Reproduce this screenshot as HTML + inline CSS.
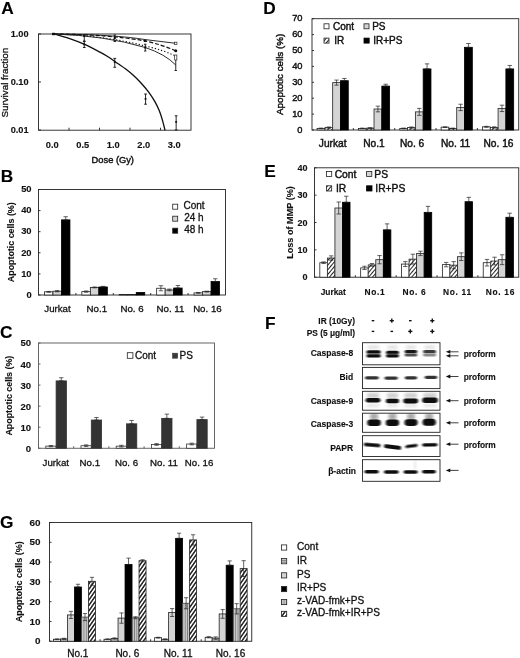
<!DOCTYPE html>
<html><head><meta charset="utf-8"><title>Figure</title>
<style>
html,body{margin:0;padding:0;background:#fff;}
body{width:520px;height:658px;overflow:hidden;font-family:"Liberation Sans",sans-serif;}
svg{display:block;font-family:"Liberation Sans",sans-serif;filter:blur(0.35px);}
</style></head><body>
<svg width="520" height="658" viewBox="0 0 520 658">
<defs>
<pattern id="hd" width="3" height="3" patternUnits="userSpaceOnUse" patternTransform="rotate(-50)"><rect width="3" height="3" fill="#fff"/><line x1="0" y1="1.5" x2="3" y2="1.5" stroke="#222" stroke-width="1.05"/></pattern>
<pattern id="hg" width="3.1" height="3.1" patternUnits="userSpaceOnUse" patternTransform="rotate(-55)"><rect width="3.1" height="3.1" fill="#fff"/><line x1="0" y1="1.55" x2="3.1" y2="1.55" stroke="#111" stroke-width="1.4"/></pattern>
<pattern id="hh" width="2" height="2" patternUnits="userSpaceOnUse"><rect width="2" height="2" fill="#fff"/><line x1="0" y1="1" x2="2" y2="1" stroke="#444" stroke-width="0.8"/></pattern>
<pattern id="hv" width="2.3" height="2.3" patternUnits="userSpaceOnUse"><rect width="2.3" height="2.3" fill="#d2d2d2"/><line x1="1.15" y1="0" x2="1.15" y2="2.3" stroke="#7a7a7a" stroke-width="0.95"/></pattern>
<filter id="bl" x="-20%" y="-100%" width="140%" height="300%"><feGaussianBlur stdDeviation="0.9 0.6"/></filter>
<filter id="bl2" x="-20%" y="-100%" width="140%" height="300%"><feGaussianBlur stdDeviation="1.6 1.4"/></filter>
<marker id="ah" viewBox="0 0 6 6" refX="1" refY="3" markerWidth="5" markerHeight="5" orient="auto-start-reverse"><path d="M6,0.4 L0,3 L6,5.6 z" fill="#111"/></marker>
</defs>
<rect width="520" height="658" fill="#fff"/>

<text x="1.2" y="14" font-size="17.3" text-anchor="start" font-weight="bold" fill="#000"  stroke="#000" stroke-width="0.12">A</text>
<text x="0.8" y="182" font-size="17.3" text-anchor="start" font-weight="bold" fill="#000"  stroke="#000" stroke-width="0.12">B</text>
<text x="0" y="337.8" font-size="17.3" text-anchor="start" font-weight="bold" fill="#000"  stroke="#000" stroke-width="0.12">C</text>
<text x="263.3" y="14.2" font-size="17.3" text-anchor="start" font-weight="bold" fill="#000"  stroke="#000" stroke-width="0.12">D</text>
<text x="264.2" y="176.8" font-size="17.3" text-anchor="start" font-weight="bold" fill="#000"  stroke="#000" stroke-width="0.12">E</text>
<text x="265" y="329.2" font-size="17.3" text-anchor="start" font-weight="bold" fill="#000"  stroke="#000" stroke-width="0.12">F</text>
<text x="0" y="528.2" font-size="17.3" text-anchor="start" font-weight="bold" fill="#000"  stroke="#000" stroke-width="0.12">G</text>
<rect x="38.50" y="34.00" width="152.50" height="96.20" fill="none" stroke="#222" stroke-width="0.9" />
<line x1="69.00" y1="130.20" x2="69.00" y2="127.70" stroke="#222" stroke-width="0.9" />
<line x1="99.50" y1="130.20" x2="99.50" y2="127.70" stroke="#222" stroke-width="0.9" />
<line x1="130.00" y1="130.20" x2="130.00" y2="127.70" stroke="#222" stroke-width="0.9" />
<line x1="160.50" y1="130.20" x2="160.50" y2="127.70" stroke="#222" stroke-width="0.9" />
<line x1="38.50" y1="34.00" x2="41.00" y2="34.00" stroke="#222" stroke-width="0.9" />
<text x="28.6" y="37.2" font-size="9.2" text-anchor="end" font-weight="bold" fill="#111"  stroke="#111" stroke-width="0.12">1.00</text>
<line x1="38.50" y1="82.00" x2="41.00" y2="82.00" stroke="#222" stroke-width="0.9" />
<text x="28.6" y="85.2" font-size="9.2" text-anchor="end" font-weight="bold" fill="#111"  stroke="#111" stroke-width="0.12">0.10</text>
<line x1="38.50" y1="130.00" x2="41.00" y2="130.00" stroke="#222" stroke-width="0.9" />
<text x="28.6" y="133.2" font-size="9.2" text-anchor="end" font-weight="bold" fill="#111"  stroke="#111" stroke-width="0.12">0.01</text>
<text x="52.25" y="148.3" font-size="9.3" text-anchor="middle" font-weight="bold" fill="#111"  stroke="#111" stroke-width="0.12">0.0</text>
<text x="82.75" y="148.3" font-size="9.3" text-anchor="middle" font-weight="bold" fill="#111"  stroke="#111" stroke-width="0.12">0.5</text>
<text x="113.25" y="148.3" font-size="9.3" text-anchor="middle" font-weight="bold" fill="#111"  stroke="#111" stroke-width="0.12">1.0</text>
<text x="143.75" y="148.3" font-size="9.3" text-anchor="middle" font-weight="bold" fill="#111"  stroke="#111" stroke-width="0.12">2.0</text>
<text x="174.25" y="148.3" font-size="9.3" text-anchor="middle" font-weight="bold" fill="#111"  stroke="#111" stroke-width="0.12">3.0</text>
<text x="112.8" y="162.5" font-size="9.3" text-anchor="middle" fill="#111"  stroke="#111" stroke-width="0.42">Dose (Gy)</text>
<text x="7.9" y="82.7" font-size="9.8" text-anchor="middle" transform="rotate(-90 7.9 82.7)" fill="#111"  stroke="#111" stroke-width="0.3">Survival fraction</text>
<path d="M53.60,33.80 C56.17,34.57 63.83,36.63 69.00,38.40 C74.17,40.17 79.43,42.10 84.60,44.40 C89.77,46.70 95.77,49.93 100.00,52.20 C104.23,54.47 107.05,56.12 110.00,58.00 C112.95,59.88 115.13,61.70 117.70,63.50 C120.27,65.30 122.85,66.88 125.40,68.80 C127.95,70.72 130.43,72.68 133.00,75.00 C135.57,77.32 138.22,79.88 140.80,82.70 C143.38,85.52 146.20,88.82 148.50,91.90 C150.80,94.98 152.82,98.12 154.60,101.20 C156.38,104.28 157.92,107.33 159.20,110.40 C160.48,113.47 161.33,116.28 162.30,119.60 C163.27,122.92 164.55,128.52 165.00,130.30" fill="none" stroke="#111" stroke-width="1.35"/>
<path d="M53.5,34 Q115,34.5 145.25,39.6 L175.75,43.3" fill="none" stroke="#222" stroke-width="0.95"/>
<path d="M53.5,34 Q110,34.5 145.25,41 Q163,45 175.75,50.8" fill="none" stroke="#111" stroke-width="1.2" stroke-dasharray="4 2"/>
<path d="M53.5,34 Q105,35.5 145.25,46 Q163,50 175.75,56" fill="none" stroke="#111" stroke-width="1.1" stroke-dasharray="1.3 2"/>
<path d="M53.5,34 Q105,35.5 145.25,47.5 Q165,54 175.75,65" fill="none" stroke="#222" stroke-width="0.95"/>
<rect x="52.00" y="32.80" width="3.00" height="2.40" fill="#111" stroke="none" stroke-width="0" />
<line x1="84.25" y1="36.00" x2="84.25" y2="41.00" stroke="#111" stroke-width="0.9" />
<line x1="83.05" y1="36.00" x2="85.45" y2="36.00" stroke="#111" stroke-width="0.9" />
<line x1="83.05" y1="41.00" x2="85.45" y2="41.00" stroke="#111" stroke-width="0.9" />
<line x1="84.25" y1="41.50" x2="84.25" y2="47.50" stroke="#111" stroke-width="0.9" />
<line x1="82.95" y1="41.50" x2="85.55" y2="41.50" stroke="#111" stroke-width="0.9" />
<line x1="82.95" y1="47.50" x2="85.55" y2="47.50" stroke="#111" stroke-width="0.9" />
<rect x="83.35" y="43.40" width="1.80" height="1.80" fill="#111" stroke="none" stroke-width="0" />
<line x1="114.75" y1="35.00" x2="114.75" y2="41.50" stroke="#111" stroke-width="0.9" />
<line x1="113.55" y1="35.00" x2="115.95" y2="35.00" stroke="#111" stroke-width="0.9" />
<line x1="113.55" y1="41.50" x2="115.95" y2="41.50" stroke="#111" stroke-width="0.9" />
<line x1="114.75" y1="58.40" x2="114.75" y2="67.30" stroke="#111" stroke-width="0.9" />
<line x1="113.35" y1="58.40" x2="116.15" y2="58.40" stroke="#111" stroke-width="0.9" />
<line x1="113.35" y1="67.30" x2="116.15" y2="67.30" stroke="#111" stroke-width="0.9" />
<rect x="113.85" y="61.20" width="1.80" height="1.80" fill="#111" stroke="none" stroke-width="0" />
<line x1="145.55" y1="94.00" x2="145.55" y2="104.20" stroke="#111" stroke-width="0.9" />
<line x1="144.15" y1="94.00" x2="146.95" y2="94.00" stroke="#111" stroke-width="0.9" />
<line x1="144.15" y1="104.20" x2="146.95" y2="104.20" stroke="#111" stroke-width="0.9" />
<rect x="144.65" y="98.00" width="1.80" height="1.80" fill="#111" stroke="none" stroke-width="0" />
<line x1="176.15" y1="115.80" x2="176.15" y2="130.00" stroke="#111" stroke-width="0.9" />
<line x1="174.75" y1="115.80" x2="177.55" y2="115.80" stroke="#111" stroke-width="0.9" />
<line x1="174.75" y1="130.00" x2="177.55" y2="130.00" stroke="#111" stroke-width="0.9" />
<rect x="175.25" y="121.00" width="1.80" height="1.80" fill="#111" stroke="none" stroke-width="0" />
<line x1="145.25" y1="44.20" x2="145.25" y2="51.00" stroke="#111" stroke-width="0.9" />
<line x1="144.05" y1="44.20" x2="146.45" y2="44.20" stroke="#111" stroke-width="0.9" />
<line x1="144.05" y1="51.00" x2="146.45" y2="51.00" stroke="#111" stroke-width="0.9" />
<line x1="175.75" y1="56.00" x2="175.75" y2="70.50" stroke="#111" stroke-width="0.9" />
<line x1="174.55" y1="56.00" x2="176.95" y2="56.00" stroke="#111" stroke-width="0.9" />
<line x1="174.55" y1="70.50" x2="176.95" y2="70.50" stroke="#111" stroke-width="0.9" />
<rect x="174.55" y="42.20" width="2.40" height="2.40" fill="#fff" stroke="#222" stroke-width="0.7" />
<circle cx="175.75" cy="50.8" r="1.5" fill="#111"/>
<rect x="144.05" y="39.60" width="2.40" height="2.40" fill="#111" stroke="none" stroke-width="0" />
<rect x="174.65" y="55.00" width="2.20" height="5.00" fill="#fff" stroke="#222" stroke-width="0.7" />
<rect x="144.25" y="46.50" width="2.00" height="2.00" fill="#111" stroke="none" stroke-width="0" />
<rect x="113.75" y="37.00" width="2.00" height="2.00" fill="#111" stroke="none" stroke-width="0" />
<rect x="83.35" y="35.00" width="1.80" height="1.80" fill="#111" stroke="none" stroke-width="0" />
<rect x="38.50" y="189.50" width="187.00" height="105.50" fill="none" stroke="#222" stroke-width="0.9" />
<line x1="38.50" y1="295.00" x2="40.50" y2="295.00" stroke="#222" stroke-width="0.9" />
<text x="31.6" y="297.784" font-size="9.4" text-anchor="end" font-weight="bold" fill="#111"  stroke="#111" stroke-width="0.12">0</text>
<line x1="38.50" y1="273.90" x2="40.50" y2="273.90" stroke="#222" stroke-width="0.9" />
<text x="31.6" y="276.68399999999997" font-size="9.4" text-anchor="end" font-weight="bold" fill="#111"  stroke="#111" stroke-width="0.12">10</text>
<line x1="38.50" y1="252.80" x2="40.50" y2="252.80" stroke="#222" stroke-width="0.9" />
<text x="31.6" y="255.58400000000003" font-size="9.4" text-anchor="end" font-weight="bold" fill="#111"  stroke="#111" stroke-width="0.12">20</text>
<line x1="38.50" y1="231.70" x2="40.50" y2="231.70" stroke="#222" stroke-width="0.9" />
<text x="31.6" y="234.48399999999998" font-size="9.4" text-anchor="end" font-weight="bold" fill="#111"  stroke="#111" stroke-width="0.12">30</text>
<line x1="38.50" y1="210.60" x2="40.50" y2="210.60" stroke="#222" stroke-width="0.9" />
<text x="31.6" y="213.38400000000001" font-size="9.4" text-anchor="end" font-weight="bold" fill="#111"  stroke="#111" stroke-width="0.12">40</text>
<line x1="38.50" y1="189.50" x2="40.50" y2="189.50" stroke="#222" stroke-width="0.9" />
<text x="31.6" y="192.284" font-size="9.4" text-anchor="end" font-weight="bold" fill="#111"  stroke="#111" stroke-width="0.12">50</text>
<line x1="75.90" y1="295.00" x2="75.90" y2="293.00" stroke="#222" stroke-width="0.9" />
<line x1="113.30" y1="295.00" x2="113.30" y2="293.00" stroke="#222" stroke-width="0.9" />
<line x1="150.70" y1="295.00" x2="150.70" y2="293.00" stroke="#222" stroke-width="0.9" />
<line x1="188.10" y1="295.00" x2="188.10" y2="293.00" stroke="#222" stroke-width="0.9" />
<rect x="44.45" y="291.83" width="8.50" height="3.17" fill="#fff" stroke="#222" stroke-width="0.8" />
<line x1="48.70" y1="291.41" x2="48.70" y2="292.26" stroke="#222" stroke-width="0.7" />
<line x1="46.50" y1="291.41" x2="50.90" y2="291.41" stroke="#222" stroke-width="0.7" />
<line x1="46.50" y1="292.26" x2="50.90" y2="292.26" stroke="#222" stroke-width="0.7" />
<rect x="52.95" y="291.20" width="8.50" height="3.80" fill="#d4d4d4" stroke="#222" stroke-width="0.8" />
<line x1="57.20" y1="290.57" x2="57.20" y2="291.83" stroke="#222" stroke-width="0.7" />
<line x1="55.00" y1="290.57" x2="59.40" y2="290.57" stroke="#222" stroke-width="0.7" />
<line x1="55.00" y1="291.83" x2="59.40" y2="291.83" stroke="#222" stroke-width="0.7" />
<rect x="61.45" y="219.88" width="8.50" height="75.12" fill="#000" stroke="#000" stroke-width="0.8" />
<line x1="65.70" y1="216.72" x2="65.70" y2="219.88" stroke="#222" stroke-width="0.7" />
<line x1="63.50" y1="216.72" x2="67.90" y2="216.72" stroke="#222" stroke-width="0.7" />
<line x1="63.50" y1="219.88" x2="67.90" y2="219.88" stroke="#222" stroke-width="0.7" />
<text x="57.5" y="312.3" font-size="9.7" text-anchor="middle" fill="#111"  stroke="#111" stroke-width="0.3">Jurkat</text>
<rect x="81.85" y="291.62" width="8.50" height="3.38" fill="#fff" stroke="#222" stroke-width="0.8" />
<line x1="86.10" y1="290.99" x2="86.10" y2="292.26" stroke="#222" stroke-width="0.7" />
<line x1="83.90" y1="290.99" x2="88.30" y2="290.99" stroke="#222" stroke-width="0.7" />
<line x1="83.90" y1="292.26" x2="88.30" y2="292.26" stroke="#222" stroke-width="0.7" />
<rect x="90.35" y="287.40" width="8.50" height="7.60" fill="#d4d4d4" stroke="#222" stroke-width="0.8" />
<line x1="94.60" y1="286.98" x2="94.60" y2="287.83" stroke="#222" stroke-width="0.7" />
<line x1="92.40" y1="286.98" x2="96.80" y2="286.98" stroke="#222" stroke-width="0.7" />
<line x1="92.40" y1="287.83" x2="96.80" y2="287.83" stroke="#222" stroke-width="0.7" />
<rect x="98.85" y="286.98" width="8.50" height="8.02" fill="#000" stroke="#000" stroke-width="0.8" />
<line x1="103.10" y1="286.35" x2="103.10" y2="286.98" stroke="#222" stroke-width="0.7" />
<line x1="100.90" y1="286.35" x2="105.30" y2="286.35" stroke="#222" stroke-width="0.7" />
<line x1="100.90" y1="286.98" x2="105.30" y2="286.98" stroke="#222" stroke-width="0.7" />
<text x="96.8" y="312.3" font-size="9.7" text-anchor="middle" fill="#111"  stroke="#111" stroke-width="0.3">No.1</text>
<rect x="119.25" y="294.58" width="8.50" height="0.42" fill="#fff" stroke="#222" stroke-width="0.8" />
<rect x="127.75" y="294.58" width="8.50" height="0.42" fill="#d4d4d4" stroke="#222" stroke-width="0.8" />
<rect x="136.25" y="292.47" width="8.50" height="2.53" fill="#000" stroke="#000" stroke-width="0.8" />
<text x="132.0" y="312.3" font-size="9.7" text-anchor="middle" fill="#111"  stroke="#111" stroke-width="0.3">No. 6</text>
<rect x="156.65" y="288.25" width="8.50" height="6.75" fill="#fff" stroke="#222" stroke-width="0.8" />
<line x1="160.90" y1="285.72" x2="160.90" y2="290.78" stroke="#222" stroke-width="0.7" />
<line x1="158.70" y1="285.72" x2="163.10" y2="285.72" stroke="#222" stroke-width="0.7" />
<line x1="158.70" y1="290.78" x2="163.10" y2="290.78" stroke="#222" stroke-width="0.7" />
<rect x="165.15" y="289.94" width="8.50" height="5.06" fill="#d4d4d4" stroke="#222" stroke-width="0.8" />
<line x1="169.40" y1="289.09" x2="169.40" y2="290.78" stroke="#222" stroke-width="0.7" />
<line x1="167.20" y1="289.09" x2="171.60" y2="289.09" stroke="#222" stroke-width="0.7" />
<line x1="167.20" y1="290.78" x2="171.60" y2="290.78" stroke="#222" stroke-width="0.7" />
<rect x="173.65" y="288.04" width="8.50" height="6.96" fill="#000" stroke="#000" stroke-width="0.8" />
<line x1="177.90" y1="285.50" x2="177.90" y2="288.04" stroke="#222" stroke-width="0.7" />
<line x1="175.70" y1="285.50" x2="180.10" y2="285.50" stroke="#222" stroke-width="0.7" />
<line x1="175.70" y1="288.04" x2="180.10" y2="288.04" stroke="#222" stroke-width="0.7" />
<text x="170.5" y="312.3" font-size="9.7" text-anchor="middle" fill="#111"  stroke="#111" stroke-width="0.3">No. 11</text>
<rect x="194.05" y="292.89" width="8.50" height="2.11" fill="#fff" stroke="#222" stroke-width="0.8" />
<line x1="198.30" y1="292.47" x2="198.30" y2="293.31" stroke="#222" stroke-width="0.7" />
<line x1="196.10" y1="292.47" x2="200.50" y2="292.47" stroke="#222" stroke-width="0.7" />
<line x1="196.10" y1="293.31" x2="200.50" y2="293.31" stroke="#222" stroke-width="0.7" />
<rect x="202.55" y="291.62" width="8.50" height="3.38" fill="#d4d4d4" stroke="#222" stroke-width="0.8" />
<line x1="206.80" y1="291.20" x2="206.80" y2="292.05" stroke="#222" stroke-width="0.7" />
<line x1="204.60" y1="291.20" x2="209.00" y2="291.20" stroke="#222" stroke-width="0.7" />
<line x1="204.60" y1="292.05" x2="209.00" y2="292.05" stroke="#222" stroke-width="0.7" />
<rect x="211.05" y="281.50" width="8.50" height="13.50" fill="#000" stroke="#000" stroke-width="0.8" />
<line x1="215.30" y1="278.75" x2="215.30" y2="281.50" stroke="#222" stroke-width="0.7" />
<line x1="213.10" y1="278.75" x2="217.50" y2="278.75" stroke="#222" stroke-width="0.7" />
<line x1="213.10" y1="281.50" x2="217.50" y2="281.50" stroke="#222" stroke-width="0.7" />
<text x="207.39999999999998" y="312.3" font-size="9.7" text-anchor="middle" fill="#111"  stroke="#111" stroke-width="0.3">No. 16</text>
<text x="14.0" y="242.25" font-size="8.9" text-anchor="middle" font-weight="bold" transform="rotate(-90 14.0 242.25)" fill="#111"  stroke="#111" stroke-width="0.12">Apoptotic cells (%)</text>
<rect x="172.70" y="204.20" width="5.00" height="5.00" fill="#fff" stroke="#222" stroke-width="0.8" />
<text x="183.5" y="209.0" font-size="10" text-anchor="start" fill="#111"  stroke="#111" stroke-width="0.3">Cont</text>
<rect x="172.70" y="216.20" width="5.00" height="5.00" fill="#d4d4d4" stroke="#222" stroke-width="0.8" />
<text x="184.2" y="221.0" font-size="10" text-anchor="start" fill="#111"  stroke="#111" stroke-width="0.3">24 h</text>
<rect x="172.70" y="228.20" width="5.00" height="5.00" fill="#000" stroke="#222" stroke-width="0.8" />
<text x="184.2" y="233.0" font-size="10" text-anchor="start" fill="#111"  stroke="#111" stroke-width="0.3">48 h</text>
<rect x="38.50" y="343.00" width="176.00" height="105.25" fill="none" stroke="#555" stroke-width="0.9" />
<line x1="38.50" y1="448.25" x2="40.50" y2="448.25" stroke="#555" stroke-width="0.9" />
<text x="31.2" y="451.706" font-size="9.6" text-anchor="end" font-weight="bold" fill="#111"  stroke="#111" stroke-width="0.12">0</text>
<line x1="38.50" y1="427.20" x2="40.50" y2="427.20" stroke="#555" stroke-width="0.9" />
<text x="31.2" y="430.656" font-size="9.6" text-anchor="end" font-weight="bold" fill="#111"  stroke="#111" stroke-width="0.12">10</text>
<line x1="38.50" y1="406.15" x2="40.50" y2="406.15" stroke="#555" stroke-width="0.9" />
<text x="31.2" y="409.606" font-size="9.6" text-anchor="end" font-weight="bold" fill="#111"  stroke="#111" stroke-width="0.12">20</text>
<line x1="38.50" y1="385.10" x2="40.50" y2="385.10" stroke="#555" stroke-width="0.9" />
<text x="31.2" y="388.55600000000004" font-size="9.6" text-anchor="end" font-weight="bold" fill="#111"  stroke="#111" stroke-width="0.12">30</text>
<line x1="38.50" y1="364.05" x2="40.50" y2="364.05" stroke="#555" stroke-width="0.9" />
<text x="31.2" y="367.50600000000003" font-size="9.6" text-anchor="end" font-weight="bold" fill="#111"  stroke="#111" stroke-width="0.12">40</text>
<line x1="38.50" y1="343.00" x2="40.50" y2="343.00" stroke="#555" stroke-width="0.9" />
<text x="31.2" y="346.456" font-size="9.6" text-anchor="end" font-weight="bold" fill="#111"  stroke="#111" stroke-width="0.12">50</text>
<line x1="73.70" y1="448.25" x2="73.70" y2="446.25" stroke="#555" stroke-width="0.9" />
<line x1="108.90" y1="448.25" x2="108.90" y2="446.25" stroke="#555" stroke-width="0.9" />
<line x1="144.10" y1="448.25" x2="144.10" y2="446.25" stroke="#555" stroke-width="0.9" />
<line x1="179.30" y1="448.25" x2="179.30" y2="446.25" stroke="#555" stroke-width="0.9" />
<rect x="45.80" y="446.14" width="10.30" height="2.10" fill="#fff" stroke="#333" stroke-width="0.8" />
<line x1="50.95" y1="445.51" x2="50.95" y2="446.78" stroke="#222" stroke-width="0.7" />
<line x1="48.75" y1="445.51" x2="53.15" y2="445.51" stroke="#222" stroke-width="0.7" />
<line x1="48.75" y1="446.78" x2="53.15" y2="446.78" stroke="#222" stroke-width="0.7" />
<rect x="56.10" y="380.89" width="10.30" height="67.36" fill="#333" stroke="#333" stroke-width="0.8" />
<line x1="61.25" y1="377.73" x2="61.25" y2="380.89" stroke="#222" stroke-width="0.7" />
<line x1="59.05" y1="377.73" x2="63.45" y2="377.73" stroke="#222" stroke-width="0.7" />
<line x1="59.05" y1="380.89" x2="63.45" y2="380.89" stroke="#222" stroke-width="0.7" />
<text x="55.800000000000004" y="466.3" font-size="9.7" text-anchor="middle" fill="#111"  stroke="#111" stroke-width="0.3">Jurkat</text>
<rect x="81.00" y="445.72" width="10.30" height="2.53" fill="#fff" stroke="#333" stroke-width="0.8" />
<line x1="86.15" y1="444.88" x2="86.15" y2="446.57" stroke="#222" stroke-width="0.7" />
<line x1="83.95" y1="444.88" x2="88.35" y2="444.88" stroke="#222" stroke-width="0.7" />
<line x1="83.95" y1="446.57" x2="88.35" y2="446.57" stroke="#222" stroke-width="0.7" />
<rect x="91.30" y="420.04" width="10.30" height="28.21" fill="#333" stroke="#333" stroke-width="0.8" />
<line x1="96.45" y1="417.52" x2="96.45" y2="420.04" stroke="#222" stroke-width="0.7" />
<line x1="94.25" y1="417.52" x2="98.65" y2="417.52" stroke="#222" stroke-width="0.7" />
<line x1="94.25" y1="420.04" x2="98.65" y2="420.04" stroke="#222" stroke-width="0.7" />
<text x="89.80000000000001" y="466.3" font-size="9.7" text-anchor="middle" fill="#111"  stroke="#111" stroke-width="0.3">No.1</text>
<rect x="116.20" y="446.14" width="10.30" height="2.10" fill="#fff" stroke="#333" stroke-width="0.8" />
<line x1="121.35" y1="445.30" x2="121.35" y2="446.99" stroke="#222" stroke-width="0.7" />
<line x1="119.15" y1="445.30" x2="123.55" y2="445.30" stroke="#222" stroke-width="0.7" />
<line x1="119.15" y1="446.99" x2="123.55" y2="446.99" stroke="#222" stroke-width="0.7" />
<rect x="126.50" y="423.83" width="10.30" height="24.42" fill="#333" stroke="#333" stroke-width="0.8" />
<line x1="131.65" y1="420.46" x2="131.65" y2="423.83" stroke="#222" stroke-width="0.7" />
<line x1="129.45" y1="420.46" x2="133.85" y2="420.46" stroke="#222" stroke-width="0.7" />
<line x1="129.45" y1="423.83" x2="133.85" y2="423.83" stroke="#222" stroke-width="0.7" />
<text x="126.5" y="466.3" font-size="9.7" text-anchor="middle" fill="#111"  stroke="#111" stroke-width="0.3">No. 6</text>
<rect x="151.40" y="444.46" width="10.30" height="3.79" fill="#fff" stroke="#333" stroke-width="0.8" />
<line x1="156.55" y1="443.62" x2="156.55" y2="445.30" stroke="#222" stroke-width="0.7" />
<line x1="154.35" y1="443.62" x2="158.75" y2="443.62" stroke="#222" stroke-width="0.7" />
<line x1="154.35" y1="445.30" x2="158.75" y2="445.30" stroke="#222" stroke-width="0.7" />
<rect x="161.70" y="418.36" width="10.30" height="29.89" fill="#333" stroke="#333" stroke-width="0.8" />
<line x1="166.85" y1="414.15" x2="166.85" y2="418.36" stroke="#222" stroke-width="0.7" />
<line x1="164.65" y1="414.15" x2="169.05" y2="414.15" stroke="#222" stroke-width="0.7" />
<line x1="164.65" y1="418.36" x2="169.05" y2="418.36" stroke="#222" stroke-width="0.7" />
<text x="164.00000000000003" y="466.3" font-size="9.7" text-anchor="middle" fill="#111"  stroke="#111" stroke-width="0.3">No. 11</text>
<rect x="186.60" y="444.04" width="10.30" height="4.21" fill="#fff" stroke="#333" stroke-width="0.8" />
<line x1="191.75" y1="443.20" x2="191.75" y2="444.88" stroke="#222" stroke-width="0.7" />
<line x1="189.55" y1="443.20" x2="193.95" y2="443.20" stroke="#222" stroke-width="0.7" />
<line x1="189.55" y1="444.88" x2="193.95" y2="444.88" stroke="#222" stroke-width="0.7" />
<rect x="196.90" y="419.62" width="10.30" height="28.63" fill="#333" stroke="#333" stroke-width="0.8" />
<line x1="202.05" y1="417.10" x2="202.05" y2="419.62" stroke="#222" stroke-width="0.7" />
<line x1="199.85" y1="417.10" x2="204.25" y2="417.10" stroke="#222" stroke-width="0.7" />
<line x1="199.85" y1="419.62" x2="204.25" y2="419.62" stroke="#222" stroke-width="0.7" />
<text x="199.1" y="466.3" font-size="9.7" text-anchor="middle" fill="#111"  stroke="#111" stroke-width="0.3">No. 16</text>
<text x="12" y="395.625" font-size="8.9" text-anchor="middle" font-weight="bold" transform="rotate(-90 12 395.625)" fill="#111"  stroke="#111" stroke-width="0.12">Apoptotic cells (%)</text>
<rect x="127.30" y="352.70" width="5.60" height="5.60" fill="#fff" stroke="#222" stroke-width="0.8" />
<text x="135" y="359.2" font-size="10" text-anchor="start" fill="#111"  stroke="#111" stroke-width="0.3">Cont</text>
<rect x="172.60" y="353.20" width="5.00" height="5.00" fill="#3a3a3a" stroke="#333" stroke-width="0.6" />
<text x="179.5" y="359.2" font-size="10" text-anchor="start" fill="#111"  stroke="#111" stroke-width="0.3">PS</text>
<rect x="312.00" y="18.70" width="206.75" height="111.30" fill="none" stroke="#222" stroke-width="0.9" />
<line x1="312.00" y1="130.00" x2="314.00" y2="130.00" stroke="#222" stroke-width="0.9" />
<text x="302.5" y="132.74800000000002" font-size="9.3" text-anchor="end" fill="#111"  stroke="#111" stroke-width="0.42">0</text>
<line x1="312.00" y1="114.10" x2="314.00" y2="114.10" stroke="#222" stroke-width="0.9" />
<text x="302.5" y="116.848" font-size="9.3" text-anchor="end" fill="#111"  stroke="#111" stroke-width="0.42">10</text>
<line x1="312.00" y1="98.20" x2="314.00" y2="98.20" stroke="#222" stroke-width="0.9" />
<text x="302.5" y="100.94800000000001" font-size="9.3" text-anchor="end" fill="#111"  stroke="#111" stroke-width="0.42">20</text>
<line x1="312.00" y1="82.30" x2="314.00" y2="82.30" stroke="#222" stroke-width="0.9" />
<text x="302.5" y="85.04800000000002" font-size="9.3" text-anchor="end" fill="#111"  stroke="#111" stroke-width="0.42">30</text>
<line x1="312.00" y1="66.40" x2="314.00" y2="66.40" stroke="#222" stroke-width="0.9" />
<text x="302.5" y="69.14800000000001" font-size="9.3" text-anchor="end" fill="#111"  stroke="#111" stroke-width="0.42">40</text>
<line x1="312.00" y1="50.50" x2="314.00" y2="50.50" stroke="#222" stroke-width="0.9" />
<text x="302.5" y="53.248" font-size="9.3" text-anchor="end" fill="#111"  stroke="#111" stroke-width="0.42">50</text>
<line x1="312.00" y1="34.60" x2="314.00" y2="34.60" stroke="#222" stroke-width="0.9" />
<text x="302.5" y="37.348000000000006" font-size="9.3" text-anchor="end" fill="#111"  stroke="#111" stroke-width="0.42">60</text>
<line x1="312.00" y1="18.70" x2="314.00" y2="18.70" stroke="#222" stroke-width="0.9" />
<text x="302.5" y="21.448000000000015" font-size="9.3" text-anchor="end" fill="#111"  stroke="#111" stroke-width="0.42">70</text>
<line x1="353.35" y1="130.00" x2="353.35" y2="128.00" stroke="#222" stroke-width="0.9" />
<line x1="394.70" y1="130.00" x2="394.70" y2="128.00" stroke="#222" stroke-width="0.9" />
<line x1="436.05" y1="130.00" x2="436.05" y2="128.00" stroke="#222" stroke-width="0.9" />
<line x1="477.40" y1="130.00" x2="477.40" y2="128.00" stroke="#222" stroke-width="0.9" />
<rect x="317.07" y="128.41" width="7.80" height="1.59" fill="#fff" stroke="#222" stroke-width="0.8" />
<line x1="320.97" y1="128.09" x2="320.97" y2="128.73" stroke="#222" stroke-width="0.7" />
<line x1="318.77" y1="128.09" x2="323.17" y2="128.09" stroke="#222" stroke-width="0.7" />
<line x1="318.77" y1="128.73" x2="323.17" y2="128.73" stroke="#222" stroke-width="0.7" />
<rect x="324.88" y="127.61" width="7.80" height="2.38" fill="#fff" stroke="none" stroke-width="0" />
<rect x="324.88" y="127.61" width="7.80" height="2.38" fill="url(#hd)" stroke="#222" stroke-width="0.8" />
<line x1="328.77" y1="126.98" x2="328.77" y2="128.25" stroke="#222" stroke-width="0.7" />
<line x1="326.57" y1="126.98" x2="330.97" y2="126.98" stroke="#222" stroke-width="0.7" />
<line x1="326.57" y1="128.25" x2="330.97" y2="128.25" stroke="#222" stroke-width="0.7" />
<rect x="332.68" y="82.62" width="7.80" height="47.38" fill="#d4d4d4" stroke="#222" stroke-width="0.8" />
<line x1="336.57" y1="80.07" x2="336.57" y2="85.16" stroke="#222" stroke-width="0.7" />
<line x1="334.38" y1="80.07" x2="338.77" y2="80.07" stroke="#222" stroke-width="0.7" />
<line x1="334.38" y1="85.16" x2="338.77" y2="85.16" stroke="#222" stroke-width="0.7" />
<rect x="340.47" y="80.71" width="7.80" height="49.29" fill="#000" stroke="#000" stroke-width="0.8" />
<line x1="344.37" y1="78.48" x2="344.37" y2="80.71" stroke="#222" stroke-width="0.7" />
<line x1="342.17" y1="78.48" x2="346.57" y2="78.48" stroke="#222" stroke-width="0.7" />
<line x1="342.17" y1="80.71" x2="346.57" y2="80.71" stroke="#222" stroke-width="0.7" />
<text x="332.675" y="147.3" font-size="10.2" text-anchor="middle" fill="#111"  stroke="#111" stroke-width="0.42">Jurkat</text>
<rect x="358.42" y="128.41" width="7.80" height="1.59" fill="#fff" stroke="#222" stroke-width="0.8" />
<line x1="362.32" y1="128.09" x2="362.32" y2="128.73" stroke="#222" stroke-width="0.7" />
<line x1="360.12" y1="128.09" x2="364.52" y2="128.09" stroke="#222" stroke-width="0.7" />
<line x1="360.12" y1="128.73" x2="364.52" y2="128.73" stroke="#222" stroke-width="0.7" />
<rect x="366.22" y="128.09" width="7.80" height="1.91" fill="#fff" stroke="none" stroke-width="0" />
<rect x="366.22" y="128.09" width="7.80" height="1.91" fill="url(#hd)" stroke="#222" stroke-width="0.8" />
<line x1="370.12" y1="127.62" x2="370.12" y2="128.57" stroke="#222" stroke-width="0.7" />
<line x1="367.92" y1="127.62" x2="372.32" y2="127.62" stroke="#222" stroke-width="0.7" />
<line x1="367.92" y1="128.57" x2="372.32" y2="128.57" stroke="#222" stroke-width="0.7" />
<rect x="374.02" y="109.01" width="7.80" height="20.99" fill="#d4d4d4" stroke="#222" stroke-width="0.8" />
<line x1="377.92" y1="106.15" x2="377.92" y2="111.87" stroke="#222" stroke-width="0.7" />
<line x1="375.72" y1="106.15" x2="380.12" y2="106.15" stroke="#222" stroke-width="0.7" />
<line x1="375.72" y1="111.87" x2="380.12" y2="111.87" stroke="#222" stroke-width="0.7" />
<rect x="381.82" y="86.12" width="7.80" height="43.88" fill="#000" stroke="#000" stroke-width="0.8" />
<line x1="385.72" y1="84.21" x2="385.72" y2="86.12" stroke="#222" stroke-width="0.7" />
<line x1="383.52" y1="84.21" x2="387.92" y2="84.21" stroke="#222" stroke-width="0.7" />
<line x1="383.52" y1="86.12" x2="387.92" y2="86.12" stroke="#222" stroke-width="0.7" />
<text x="374.025" y="147.3" font-size="10.2" text-anchor="middle" fill="#111"  stroke="#111" stroke-width="0.42">No.1</text>
<rect x="399.77" y="128.41" width="7.80" height="1.59" fill="#fff" stroke="#222" stroke-width="0.8" />
<line x1="403.67" y1="128.09" x2="403.67" y2="128.73" stroke="#222" stroke-width="0.7" />
<line x1="401.47" y1="128.09" x2="405.87" y2="128.09" stroke="#222" stroke-width="0.7" />
<line x1="401.47" y1="128.73" x2="405.87" y2="128.73" stroke="#222" stroke-width="0.7" />
<rect x="407.57" y="127.61" width="7.80" height="2.38" fill="#fff" stroke="none" stroke-width="0" />
<rect x="407.57" y="127.61" width="7.80" height="2.38" fill="url(#hd)" stroke="#222" stroke-width="0.8" />
<line x1="411.47" y1="126.98" x2="411.47" y2="128.25" stroke="#222" stroke-width="0.7" />
<line x1="409.27" y1="126.98" x2="413.67" y2="126.98" stroke="#222" stroke-width="0.7" />
<line x1="409.27" y1="128.25" x2="413.67" y2="128.25" stroke="#222" stroke-width="0.7" />
<rect x="415.38" y="111.87" width="7.80" height="18.13" fill="#d4d4d4" stroke="#222" stroke-width="0.8" />
<line x1="419.27" y1="108.38" x2="419.27" y2="115.37" stroke="#222" stroke-width="0.7" />
<line x1="417.07" y1="108.38" x2="421.47" y2="108.38" stroke="#222" stroke-width="0.7" />
<line x1="417.07" y1="115.37" x2="421.47" y2="115.37" stroke="#222" stroke-width="0.7" />
<rect x="423.17" y="68.94" width="7.80" height="61.06" fill="#000" stroke="#000" stroke-width="0.8" />
<line x1="427.07" y1="63.86" x2="427.07" y2="68.94" stroke="#222" stroke-width="0.7" />
<line x1="424.87" y1="63.86" x2="429.27" y2="63.86" stroke="#222" stroke-width="0.7" />
<line x1="424.87" y1="68.94" x2="429.27" y2="68.94" stroke="#222" stroke-width="0.7" />
<text x="412.075" y="147.3" font-size="10.2" text-anchor="middle" fill="#111"  stroke="#111" stroke-width="0.42">No. 6</text>
<rect x="441.12" y="127.14" width="7.80" height="2.86" fill="#fff" stroke="#222" stroke-width="0.8" />
<line x1="445.02" y1="126.82" x2="445.02" y2="127.46" stroke="#222" stroke-width="0.7" />
<line x1="442.82" y1="126.82" x2="447.22" y2="126.82" stroke="#222" stroke-width="0.7" />
<line x1="442.82" y1="127.46" x2="447.22" y2="127.46" stroke="#222" stroke-width="0.7" />
<rect x="448.93" y="128.41" width="7.80" height="1.59" fill="#fff" stroke="none" stroke-width="0" />
<rect x="448.93" y="128.41" width="7.80" height="1.59" fill="url(#hd)" stroke="#222" stroke-width="0.8" />
<line x1="452.82" y1="128.09" x2="452.82" y2="128.73" stroke="#222" stroke-width="0.7" />
<line x1="450.62" y1="128.09" x2="455.02" y2="128.09" stroke="#222" stroke-width="0.7" />
<line x1="450.62" y1="128.73" x2="455.02" y2="128.73" stroke="#222" stroke-width="0.7" />
<rect x="456.73" y="107.42" width="7.80" height="22.58" fill="#d4d4d4" stroke="#222" stroke-width="0.8" />
<line x1="460.62" y1="104.24" x2="460.62" y2="110.60" stroke="#222" stroke-width="0.7" />
<line x1="458.43" y1="104.24" x2="462.82" y2="104.24" stroke="#222" stroke-width="0.7" />
<line x1="458.43" y1="110.60" x2="462.82" y2="110.60" stroke="#222" stroke-width="0.7" />
<rect x="464.52" y="47.32" width="7.80" height="82.68" fill="#000" stroke="#000" stroke-width="0.8" />
<line x1="468.42" y1="43.50" x2="468.42" y2="47.32" stroke="#222" stroke-width="0.7" />
<line x1="466.22" y1="43.50" x2="470.62" y2="43.50" stroke="#222" stroke-width="0.7" />
<line x1="466.22" y1="47.32" x2="470.62" y2="47.32" stroke="#222" stroke-width="0.7" />
<text x="455.625" y="147.3" font-size="10.2" text-anchor="middle" fill="#111"  stroke="#111" stroke-width="0.42">No. 11</text>
<rect x="482.48" y="126.82" width="7.80" height="3.18" fill="#fff" stroke="#222" stroke-width="0.8" />
<line x1="486.38" y1="126.34" x2="486.38" y2="127.30" stroke="#222" stroke-width="0.7" />
<line x1="484.18" y1="126.34" x2="488.57" y2="126.34" stroke="#222" stroke-width="0.7" />
<line x1="484.18" y1="127.30" x2="488.57" y2="127.30" stroke="#222" stroke-width="0.7" />
<rect x="490.28" y="127.46" width="7.80" height="2.54" fill="#fff" stroke="none" stroke-width="0" />
<rect x="490.28" y="127.46" width="7.80" height="2.54" fill="url(#hd)" stroke="#222" stroke-width="0.8" />
<line x1="494.18" y1="126.82" x2="494.18" y2="128.09" stroke="#222" stroke-width="0.7" />
<line x1="491.98" y1="126.82" x2="496.38" y2="126.82" stroke="#222" stroke-width="0.7" />
<line x1="491.98" y1="128.09" x2="496.38" y2="128.09" stroke="#222" stroke-width="0.7" />
<rect x="498.08" y="108.38" width="7.80" height="21.62" fill="#d4d4d4" stroke="#222" stroke-width="0.8" />
<line x1="501.98" y1="105.20" x2="501.98" y2="111.56" stroke="#222" stroke-width="0.7" />
<line x1="499.78" y1="105.20" x2="504.18" y2="105.20" stroke="#222" stroke-width="0.7" />
<line x1="499.78" y1="111.56" x2="504.18" y2="111.56" stroke="#222" stroke-width="0.7" />
<rect x="505.88" y="68.94" width="7.80" height="61.06" fill="#000" stroke="#000" stroke-width="0.8" />
<line x1="509.77" y1="65.45" x2="509.77" y2="68.94" stroke="#222" stroke-width="0.7" />
<line x1="507.57" y1="65.45" x2="511.97" y2="65.45" stroke="#222" stroke-width="0.7" />
<line x1="507.57" y1="68.94" x2="511.97" y2="68.94" stroke="#222" stroke-width="0.7" />
<text x="498.475" y="147.3" font-size="10.2" text-anchor="middle" fill="#111"  stroke="#111" stroke-width="0.42">No. 16</text>
<text x="283.0" y="74.35" font-size="9.8" text-anchor="middle" transform="rotate(-90 283.0 74.35)" fill="#111"  stroke="#111" stroke-width="0.42">Apoptotic cells (%)</text>
<rect x="324.00" y="23.80" width="5.00" height="5.00" fill="#fff" stroke="#222" stroke-width="0.8" />
<text x="333" y="29.900000000000002" font-size="10" text-anchor="start" fill="#111"  stroke="#111" stroke-width="0.42">Cont</text>
<rect x="364.00" y="23.80" width="5.00" height="5.00" fill="#d4d4d4" stroke="#222" stroke-width="0.8" />
<text x="372.2" y="29.900000000000002" font-size="10" text-anchor="start" fill="#111"  stroke="#111" stroke-width="0.42">PS</text>
<rect x="324.00" y="38.10" width="5.00" height="5.00" fill="url(#hd)" stroke="#222" stroke-width="0.8" />
<text x="334.3" y="43.800000000000004" font-size="10" text-anchor="start" fill="#111"  stroke="#111" stroke-width="0.42">IR</text>
<rect x="364.00" y="38.10" width="5.20" height="5.00" fill="#000" stroke="#000" stroke-width="0.8" />
<text x="373.2" y="43.800000000000004" font-size="10" text-anchor="start" fill="#111"  stroke="#111" stroke-width="0.42">IR+PS</text>
<rect x="314.50" y="167.80" width="204.25" height="109.40" fill="none" stroke="#222" stroke-width="0.9" />
<line x1="314.50" y1="277.20" x2="316.50" y2="277.20" stroke="#222" stroke-width="0.9" />
<text x="307.6" y="280.44" font-size="9" text-anchor="end" font-weight="bold" fill="#111"  stroke="#111" stroke-width="0.12">0</text>
<line x1="314.50" y1="249.85" x2="316.50" y2="249.85" stroke="#222" stroke-width="0.9" />
<text x="307.6" y="253.09" font-size="9" text-anchor="end" font-weight="bold" fill="#111"  stroke="#111" stroke-width="0.12">10</text>
<line x1="314.50" y1="222.50" x2="316.50" y2="222.50" stroke="#222" stroke-width="0.9" />
<text x="307.6" y="225.74" font-size="9" text-anchor="end" font-weight="bold" fill="#111"  stroke="#111" stroke-width="0.12">20</text>
<line x1="314.50" y1="195.15" x2="316.50" y2="195.15" stroke="#222" stroke-width="0.9" />
<text x="307.6" y="198.39000000000001" font-size="9" text-anchor="end" font-weight="bold" fill="#111"  stroke="#111" stroke-width="0.12">30</text>
<line x1="314.50" y1="167.80" x2="316.50" y2="167.80" stroke="#222" stroke-width="0.9" />
<text x="307.6" y="171.04000000000002" font-size="9" text-anchor="end" font-weight="bold" fill="#111"  stroke="#111" stroke-width="0.12">40</text>
<line x1="355.35" y1="277.20" x2="355.35" y2="275.20" stroke="#222" stroke-width="0.9" />
<line x1="396.20" y1="277.20" x2="396.20" y2="275.20" stroke="#222" stroke-width="0.9" />
<line x1="437.05" y1="277.20" x2="437.05" y2="275.20" stroke="#222" stroke-width="0.9" />
<line x1="477.90" y1="277.20" x2="477.90" y2="275.20" stroke="#222" stroke-width="0.9" />
<rect x="319.82" y="262.70" width="7.55" height="14.50" fill="#fff" stroke="#222" stroke-width="0.8" />
<line x1="323.60" y1="261.88" x2="323.60" y2="263.52" stroke="#222" stroke-width="0.7" />
<line x1="321.40" y1="261.88" x2="325.80" y2="261.88" stroke="#222" stroke-width="0.7" />
<line x1="321.40" y1="263.52" x2="325.80" y2="263.52" stroke="#222" stroke-width="0.7" />
<rect x="327.38" y="258.06" width="7.55" height="19.14" fill="#fff" stroke="none" stroke-width="0" />
<rect x="327.38" y="258.06" width="7.55" height="19.14" fill="url(#hd)" stroke="#222" stroke-width="0.8" />
<line x1="331.15" y1="255.87" x2="331.15" y2="260.24" stroke="#222" stroke-width="0.7" />
<line x1="328.95" y1="255.87" x2="333.35" y2="255.87" stroke="#222" stroke-width="0.7" />
<line x1="328.95" y1="260.24" x2="333.35" y2="260.24" stroke="#222" stroke-width="0.7" />
<rect x="334.93" y="208.00" width="7.55" height="69.20" fill="#d4d4d4" stroke="#222" stroke-width="0.8" />
<line x1="338.70" y1="201.99" x2="338.70" y2="214.02" stroke="#222" stroke-width="0.7" />
<line x1="336.50" y1="201.99" x2="340.90" y2="201.99" stroke="#222" stroke-width="0.7" />
<line x1="336.50" y1="214.02" x2="340.90" y2="214.02" stroke="#222" stroke-width="0.7" />
<rect x="342.47" y="202.26" width="7.55" height="74.94" fill="#000" stroke="#000" stroke-width="0.8" />
<line x1="346.25" y1="196.24" x2="346.25" y2="202.26" stroke="#222" stroke-width="0.7" />
<line x1="344.05" y1="196.24" x2="348.45" y2="196.24" stroke="#222" stroke-width="0.7" />
<line x1="344.05" y1="202.26" x2="348.45" y2="202.26" stroke="#222" stroke-width="0.7" />
<text x="333.225" y="294.8" font-size="8.4" text-anchor="middle" font-weight="bold" fill="#111"  stroke="#111" stroke-width="0.12">Jurkat</text>
<rect x="360.67" y="267.90" width="7.55" height="9.30" fill="#fff" stroke="#222" stroke-width="0.8" />
<line x1="364.45" y1="266.26" x2="364.45" y2="269.54" stroke="#222" stroke-width="0.7" />
<line x1="362.25" y1="266.26" x2="366.65" y2="266.26" stroke="#222" stroke-width="0.7" />
<line x1="362.25" y1="269.54" x2="366.65" y2="269.54" stroke="#222" stroke-width="0.7" />
<rect x="368.22" y="264.89" width="7.55" height="12.31" fill="#fff" stroke="none" stroke-width="0" />
<rect x="368.22" y="264.89" width="7.55" height="12.31" fill="url(#hd)" stroke="#222" stroke-width="0.8" />
<line x1="372.00" y1="263.52" x2="372.00" y2="266.26" stroke="#222" stroke-width="0.7" />
<line x1="369.80" y1="263.52" x2="374.20" y2="263.52" stroke="#222" stroke-width="0.7" />
<line x1="369.80" y1="266.26" x2="374.20" y2="266.26" stroke="#222" stroke-width="0.7" />
<rect x="375.77" y="259.70" width="7.55" height="17.50" fill="#d4d4d4" stroke="#222" stroke-width="0.8" />
<line x1="379.55" y1="255.59" x2="379.55" y2="263.80" stroke="#222" stroke-width="0.7" />
<line x1="377.35" y1="255.59" x2="381.75" y2="255.59" stroke="#222" stroke-width="0.7" />
<line x1="377.35" y1="263.80" x2="381.75" y2="263.80" stroke="#222" stroke-width="0.7" />
<rect x="383.32" y="229.88" width="7.55" height="47.32" fill="#000" stroke="#000" stroke-width="0.8" />
<line x1="387.10" y1="223.87" x2="387.10" y2="229.88" stroke="#222" stroke-width="0.7" />
<line x1="384.90" y1="223.87" x2="389.30" y2="223.87" stroke="#222" stroke-width="0.7" />
<line x1="384.90" y1="229.88" x2="389.30" y2="229.88" stroke="#222" stroke-width="0.7" />
<text x="374.925" y="294.8" font-size="8.4" text-anchor="middle" font-weight="bold" fill="#111" letter-spacing="0.7" stroke="#111" stroke-width="0.12">No.1</text>
<rect x="401.52" y="264.07" width="7.55" height="13.13" fill="#fff" stroke="#222" stroke-width="0.8" />
<line x1="405.30" y1="261.61" x2="405.30" y2="266.53" stroke="#222" stroke-width="0.7" />
<line x1="403.10" y1="261.61" x2="407.50" y2="261.61" stroke="#222" stroke-width="0.7" />
<line x1="403.10" y1="266.53" x2="407.50" y2="266.53" stroke="#222" stroke-width="0.7" />
<rect x="409.07" y="259.15" width="7.55" height="18.05" fill="#fff" stroke="none" stroke-width="0" />
<rect x="409.07" y="259.15" width="7.55" height="18.05" fill="url(#hd)" stroke="#222" stroke-width="0.8" />
<line x1="412.85" y1="254.23" x2="412.85" y2="264.07" stroke="#222" stroke-width="0.7" />
<line x1="410.65" y1="254.23" x2="415.05" y2="254.23" stroke="#222" stroke-width="0.7" />
<line x1="410.65" y1="264.07" x2="415.05" y2="264.07" stroke="#222" stroke-width="0.7" />
<rect x="416.62" y="253.41" width="7.55" height="23.79" fill="#d4d4d4" stroke="#222" stroke-width="0.8" />
<line x1="420.40" y1="251.22" x2="420.40" y2="255.59" stroke="#222" stroke-width="0.7" />
<line x1="418.20" y1="251.22" x2="422.60" y2="251.22" stroke="#222" stroke-width="0.7" />
<line x1="418.20" y1="255.59" x2="422.60" y2="255.59" stroke="#222" stroke-width="0.7" />
<rect x="424.17" y="212.38" width="7.55" height="64.82" fill="#000" stroke="#000" stroke-width="0.8" />
<line x1="427.95" y1="206.36" x2="427.95" y2="212.38" stroke="#222" stroke-width="0.7" />
<line x1="425.75" y1="206.36" x2="430.15" y2="206.36" stroke="#222" stroke-width="0.7" />
<line x1="425.75" y1="212.38" x2="430.15" y2="212.38" stroke="#222" stroke-width="0.7" />
<text x="414.475" y="294.8" font-size="8.4" text-anchor="middle" font-weight="bold" fill="#111" letter-spacing="0.7" stroke="#111" stroke-width="0.12">No. 6</text>
<rect x="442.38" y="264.62" width="7.55" height="12.58" fill="#fff" stroke="#222" stroke-width="0.8" />
<line x1="446.15" y1="262.43" x2="446.15" y2="266.81" stroke="#222" stroke-width="0.7" />
<line x1="443.95" y1="262.43" x2="448.35" y2="262.43" stroke="#222" stroke-width="0.7" />
<line x1="443.95" y1="266.81" x2="448.35" y2="266.81" stroke="#222" stroke-width="0.7" />
<rect x="449.93" y="265.17" width="7.55" height="12.03" fill="#fff" stroke="none" stroke-width="0" />
<rect x="449.93" y="265.17" width="7.55" height="12.03" fill="url(#hd)" stroke="#222" stroke-width="0.8" />
<line x1="453.70" y1="261.61" x2="453.70" y2="268.72" stroke="#222" stroke-width="0.7" />
<line x1="451.50" y1="261.61" x2="455.90" y2="261.61" stroke="#222" stroke-width="0.7" />
<line x1="451.50" y1="268.72" x2="455.90" y2="268.72" stroke="#222" stroke-width="0.7" />
<rect x="457.48" y="256.69" width="7.55" height="20.51" fill="#d4d4d4" stroke="#222" stroke-width="0.8" />
<line x1="461.25" y1="252.86" x2="461.25" y2="260.52" stroke="#222" stroke-width="0.7" />
<line x1="459.05" y1="252.86" x2="463.45" y2="252.86" stroke="#222" stroke-width="0.7" />
<line x1="459.05" y1="260.52" x2="463.45" y2="260.52" stroke="#222" stroke-width="0.7" />
<rect x="465.02" y="201.71" width="7.55" height="75.49" fill="#000" stroke="#000" stroke-width="0.8" />
<line x1="468.80" y1="197.34" x2="468.80" y2="201.71" stroke="#222" stroke-width="0.7" />
<line x1="466.60" y1="197.34" x2="471.00" y2="197.34" stroke="#222" stroke-width="0.7" />
<line x1="466.60" y1="201.71" x2="471.00" y2="201.71" stroke="#222" stroke-width="0.7" />
<text x="457.42500000000007" y="294.8" font-size="8.4" text-anchor="middle" font-weight="bold" fill="#111" letter-spacing="0.7" stroke="#111" stroke-width="0.12">No. 11</text>
<rect x="483.23" y="262.70" width="7.55" height="14.50" fill="#fff" stroke="#222" stroke-width="0.8" />
<line x1="487.00" y1="259.42" x2="487.00" y2="265.99" stroke="#222" stroke-width="0.7" />
<line x1="484.80" y1="259.42" x2="489.20" y2="259.42" stroke="#222" stroke-width="0.7" />
<line x1="484.80" y1="265.99" x2="489.20" y2="265.99" stroke="#222" stroke-width="0.7" />
<rect x="490.78" y="261.06" width="7.55" height="16.14" fill="#fff" stroke="none" stroke-width="0" />
<rect x="490.78" y="261.06" width="7.55" height="16.14" fill="url(#hd)" stroke="#222" stroke-width="0.8" />
<line x1="494.55" y1="257.23" x2="494.55" y2="264.89" stroke="#222" stroke-width="0.7" />
<line x1="492.35" y1="257.23" x2="496.75" y2="257.23" stroke="#222" stroke-width="0.7" />
<line x1="492.35" y1="264.89" x2="496.75" y2="264.89" stroke="#222" stroke-width="0.7" />
<rect x="498.33" y="259.70" width="7.55" height="17.50" fill="#d4d4d4" stroke="#222" stroke-width="0.8" />
<line x1="502.10" y1="254.77" x2="502.10" y2="264.62" stroke="#222" stroke-width="0.7" />
<line x1="499.90" y1="254.77" x2="504.30" y2="254.77" stroke="#222" stroke-width="0.7" />
<line x1="499.90" y1="264.62" x2="504.30" y2="264.62" stroke="#222" stroke-width="0.7" />
<rect x="505.88" y="217.30" width="7.55" height="59.90" fill="#000" stroke="#000" stroke-width="0.8" />
<line x1="509.65" y1="213.20" x2="509.65" y2="217.30" stroke="#222" stroke-width="0.7" />
<line x1="507.45" y1="213.20" x2="511.85" y2="213.20" stroke="#222" stroke-width="0.7" />
<line x1="507.45" y1="217.30" x2="511.85" y2="217.30" stroke="#222" stroke-width="0.7" />
<text x="500.37500000000006" y="294.8" font-size="8.4" text-anchor="middle" font-weight="bold" fill="#111" letter-spacing="0.7" stroke="#111" stroke-width="0.12">No. 16</text>
<text x="292.8" y="222.5" font-size="9.1" text-anchor="middle" font-weight="bold" transform="rotate(-90 292.8 222.5)" fill="#111"  stroke="#111" stroke-width="0.12">Loss of MMP (%)</text>
<rect x="326.50" y="171.40" width="5.20" height="5.20" fill="#fff" stroke="#222" stroke-width="0.8" />
<text x="334.7" y="177.6" font-size="10.3" text-anchor="start" fill="#111"  stroke="#111" stroke-width="0.42">Cont</text>
<rect x="366.60" y="171.40" width="5.20" height="5.20" fill="#d4d4d4" stroke="#222" stroke-width="0.8" />
<text x="374.3" y="177.6" font-size="10.3" text-anchor="start" fill="#111"  stroke="#111" stroke-width="0.42">PS</text>
<rect x="326.50" y="185.80" width="5.20" height="5.20" fill="url(#hd)" stroke="#222" stroke-width="0.8" />
<text x="336.0" y="191.6" font-size="10.3" text-anchor="start" fill="#111"  stroke="#111" stroke-width="0.42">IR</text>
<rect x="366.60" y="185.80" width="5.40" height="5.20" fill="#000" stroke="#000" stroke-width="0.8" />
<text x="375.3" y="191.6" font-size="10.3" text-anchor="start" fill="#111"  stroke="#111" stroke-width="0.42">IR+PS</text>
<text x="355" y="324.0" font-size="8.35" text-anchor="end" font-weight="bold" fill="#111"  stroke="#111" stroke-width="0.12">IR (10Gy)</text>
<text x="355" y="336.1" font-size="8.35" text-anchor="end" font-weight="bold" fill="#111"  stroke="#111" stroke-width="0.12">PS (5 &#956;g/ml)</text>
<line x1="371.70" y1="320.70" x2="374.30" y2="320.70" stroke="#111" stroke-width="1.35" />
<line x1="371.70" y1="331.40" x2="374.30" y2="331.40" stroke="#111" stroke-width="1.35" />
<line x1="389.70" y1="320.70" x2="393.90" y2="320.70" stroke="#111" stroke-width="1.35" />
<line x1="391.80" y1="318.60" x2="391.80" y2="322.80" stroke="#111" stroke-width="1.35" />
<line x1="390.50" y1="331.40" x2="393.10" y2="331.40" stroke="#111" stroke-width="1.35" />
<line x1="409.00" y1="320.70" x2="411.60" y2="320.70" stroke="#111" stroke-width="1.35" />
<line x1="408.20" y1="331.40" x2="412.40" y2="331.40" stroke="#111" stroke-width="1.35" />
<line x1="410.30" y1="329.30" x2="410.30" y2="333.50" stroke="#111" stroke-width="1.35" />
<line x1="430.20" y1="320.70" x2="434.40" y2="320.70" stroke="#111" stroke-width="1.35" />
<line x1="432.30" y1="318.60" x2="432.30" y2="322.80" stroke="#111" stroke-width="1.35" />
<line x1="430.20" y1="331.40" x2="434.40" y2="331.40" stroke="#111" stroke-width="1.35" />
<line x1="432.30" y1="329.30" x2="432.30" y2="333.50" stroke="#111" stroke-width="1.35" />
<text x="353.2" y="355.6" font-size="8.5" text-anchor="end" font-weight="bold" fill="#111"  stroke="#111" stroke-width="0.12">Caspase-8</text>
<text x="353.2" y="380.1" font-size="8.5" text-anchor="end" font-weight="bold" fill="#111"  stroke="#111" stroke-width="0.12">Bid</text>
<text x="353.2" y="404.3" font-size="8.5" text-anchor="end" font-weight="bold" fill="#111"  stroke="#111" stroke-width="0.12">Caspase-9</text>
<text x="353.2" y="427.40000000000003" font-size="8.5" text-anchor="end" font-weight="bold" fill="#111"  stroke="#111" stroke-width="0.12">Caspase-3</text>
<text x="353.2" y="450.6" font-size="8.5" text-anchor="end" font-weight="bold" fill="#111"  stroke="#111" stroke-width="0.12">PAPR</text>
<text x="356" y="474.40000000000003" font-size="8.5" text-anchor="end" font-weight="bold" fill="#111"  stroke="#111" stroke-width="0.12">&#946;-actin</text>
<clipPath id="cp0"><rect x="362.5" y="342.7" width="77.5" height="22.100000000000023"/></clipPath>
<rect x="362.50" y="342.70" width="77.50" height="22.10" fill="#fff" stroke="none" stroke-width="0" />
<g clip-path="url(#cp0)">
<rect x="367.60" y="345.80" width="12.00" height="3.00" rx="1.50" fill="#ccc" opacity="0.7" filter="url(#bl2)"/>
<rect x="366.60" y="352.10" width="14.00" height="3.50" rx="1.75" fill="#444" opacity="0.6" filter="url(#bl)"/>
<rect x="366.60" y="350.25" width="14.00" height="3.10" rx="1.55" fill="#0a0a0a" opacity="1" filter="url(#bl)"/>
<rect x="366.60" y="354.40" width="14.00" height="3.00" rx="1.50" fill="#0a0a0a" opacity="1" filter="url(#bl)"/>
<rect x="387.20" y="345.80" width="10.60" height="3.00" rx="1.50" fill="#ccc" opacity="0.7" filter="url(#bl2)"/>
<rect x="386.20" y="352.35" width="12.60" height="3.50" rx="1.75" fill="#444" opacity="0.6" filter="url(#bl)"/>
<rect x="386.20" y="350.75" width="12.60" height="3.10" rx="1.55" fill="#0a0a0a" opacity="1" filter="url(#bl)"/>
<rect x="386.20" y="354.40" width="12.60" height="3.00" rx="1.50" fill="#0a0a0a" opacity="1" filter="url(#bl)"/>
<rect x="405.70" y="345.80" width="10.50" height="3.00" rx="1.50" fill="#ccc" opacity="0.7" filter="url(#bl2)"/>
<rect x="404.70" y="351.45" width="12.50" height="3.50" rx="1.75" fill="#999" opacity="0.4" filter="url(#bl)"/>
<rect x="404.70" y="349.95" width="12.50" height="3.10" rx="1.55" fill="#181818" opacity="1" filter="url(#bl)"/>
<rect x="404.70" y="353.40" width="12.50" height="3.00" rx="1.50" fill="#505050" opacity="1" filter="url(#bl)"/>
<rect x="424.20" y="345.80" width="10.80" height="3.00" rx="1.50" fill="#ccc" opacity="0.7" filter="url(#bl2)"/>
<rect x="423.20" y="351.55" width="12.80" height="3.50" rx="1.75" fill="#999" opacity="0.4" filter="url(#bl)"/>
<rect x="423.20" y="349.95" width="12.80" height="3.10" rx="1.55" fill="#3a3a3a" opacity="1" filter="url(#bl)"/>
<rect x="423.20" y="353.60" width="12.80" height="3.00" rx="1.50" fill="#8a8a8a" opacity="1" filter="url(#bl)"/>
</g>
<rect x="362.50" y="342.70" width="77.50" height="22.10" fill="none" stroke="#222" stroke-width="0.9" />
<clipPath id="cp1"><rect x="362.5" y="367.4" width="77.5" height="21.200000000000045"/></clipPath>
<rect x="362.50" y="367.40" width="77.50" height="21.20" fill="#fff" stroke="none" stroke-width="0" />
<g clip-path="url(#cp1)">
<rect x="365.00" y="376.15" width="13.80" height="3.30" rx="1.65" fill="#333" opacity="1" filter="url(#bl)"/>
<rect x="384.50" y="376.45" width="13.30" height="3.30" rx="1.65" fill="#333" opacity="1" filter="url(#bl)"/>
<rect x="404.80" y="376.15" width="12.30" height="3.30" rx="1.65" fill="#333" opacity="1" filter="url(#bl)"/>
<rect x="424.70" y="375.65" width="12.50" height="3.30" rx="1.65" fill="#333" opacity="1" filter="url(#bl)"/>
</g>
<rect x="362.50" y="367.40" width="77.50" height="21.20" fill="none" stroke="#222" stroke-width="0.9" />
<clipPath id="cp2"><rect x="362.5" y="391.3" width="77.5" height="18.899999999999977"/></clipPath>
<rect x="362.50" y="391.30" width="77.50" height="18.90" fill="#fff" stroke="none" stroke-width="0" />
<g clip-path="url(#cp2)">
<rect x="366.60" y="393.00" width="12.80" height="5.00" rx="2.50" fill="#bbb" opacity="0.75" filter="url(#bl2)"/>
<rect x="366.60" y="404.00" width="12.80" height="3.00" rx="1.50" fill="#ccc" opacity="0.6" filter="url(#bl2)"/>
<rect x="365.60" y="398.00" width="14.80" height="4.60" rx="2.30" fill="#0c0c0c" opacity="1" filter="url(#bl)"/>
<rect x="386.80" y="393.00" width="11.30" height="5.00" rx="2.50" fill="#bbb" opacity="0.75" filter="url(#bl2)"/>
<rect x="386.80" y="404.00" width="11.30" height="3.00" rx="1.50" fill="#ccc" opacity="0.6" filter="url(#bl2)"/>
<rect x="385.80" y="398.80" width="13.30" height="4.40" rx="2.20" fill="#0c0c0c" opacity="1" filter="url(#bl)"/>
<rect x="404.20" y="393.00" width="13.00" height="5.00" rx="2.50" fill="#bbb" opacity="0.75" filter="url(#bl2)"/>
<rect x="404.20" y="404.00" width="13.00" height="3.00" rx="1.50" fill="#ccc" opacity="0.6" filter="url(#bl2)"/>
<rect x="403.20" y="398.60" width="15.00" height="4.80" rx="2.40" fill="#0c0c0c" opacity="1" filter="url(#bl)"/>
<rect x="423.20" y="393.00" width="13.60" height="5.00" rx="2.50" fill="#bbb" opacity="0.75" filter="url(#bl2)"/>
<rect x="423.20" y="404.00" width="13.60" height="3.00" rx="1.50" fill="#ccc" opacity="0.6" filter="url(#bl2)"/>
<rect x="422.20" y="397.60" width="15.60" height="5.40" rx="2.70" fill="#0c0c0c" opacity="1" filter="url(#bl)"/>
</g>
<rect x="362.50" y="391.30" width="77.50" height="18.90" fill="none" stroke="#222" stroke-width="0.9" />
<clipPath id="cp3"><rect x="362.5" y="413.2" width="77.5" height="19.100000000000023"/></clipPath>
<rect x="362.50" y="413.20" width="77.50" height="19.10" fill="#fff" stroke="none" stroke-width="0" />
<g clip-path="url(#cp3)">
<rect x="369.80" y="413.00" width="8.50" height="7.00" rx="3.50" fill="#9a9a9a" opacity="0.85" filter="url(#bl2)"/>
<rect x="367.30" y="419.60" width="13.50" height="6.40" rx="3.20" fill="#070707" opacity="1" filter="url(#bl)"/>
<rect x="388.30" y="413.00" width="8.30" height="7.00" rx="3.50" fill="#9a9a9a" opacity="0.85" filter="url(#bl2)"/>
<rect x="385.80" y="419.50" width="13.30" height="6.60" rx="3.30" fill="#070707" opacity="1" filter="url(#bl)"/>
<rect x="407.00" y="413.00" width="8.10" height="7.00" rx="3.50" fill="#9a9a9a" opacity="0.85" filter="url(#bl2)"/>
<rect x="404.50" y="419.30" width="13.10" height="6.60" rx="3.30" fill="#070707" opacity="1" filter="url(#bl)"/>
<rect x="425.10" y="413.00" width="8.20" height="7.00" rx="3.50" fill="#9a9a9a" opacity="0.85" filter="url(#bl2)"/>
<rect x="422.60" y="418.80" width="13.20" height="7.00" rx="3.50" fill="#070707" opacity="1" filter="url(#bl)"/>
</g>
<rect x="362.50" y="413.20" width="77.50" height="19.10" fill="none" stroke="#222" stroke-width="0.9" />
<clipPath id="cp4"><rect x="362.5" y="435.7" width="77.5" height="20.80000000000001"/></clipPath>
<rect x="362.50" y="435.70" width="77.50" height="20.80" fill="#fff" stroke="none" stroke-width="0" />
<g clip-path="url(#cp4)">
<rect x="363.80" y="443.35" width="16.70" height="3.30" rx="1.65" fill="#0c0c0c" opacity="1" filter="url(#bl)" transform="rotate(4.5 372.15 445.00)"/>
<rect x="384.00" y="445.10" width="17.20" height="3.80" rx="1.90" fill="#0c0c0c" opacity="1" filter="url(#bl)" transform="rotate(7 392.60 447.00)"/>
<rect x="405.30" y="444.50" width="12.30" height="3.00" rx="1.50" fill="#0c0c0c" opacity="1" filter="url(#bl)" transform="rotate(-7 411.45 446.00)"/>
<rect x="422.20" y="443.20" width="15.30" height="3.20" rx="1.60" fill="#0c0c0c" opacity="1" filter="url(#bl)" transform="rotate(-1 429.85 444.80)"/>
</g>
<rect x="362.50" y="435.70" width="77.50" height="20.80" fill="none" stroke="#222" stroke-width="0.9" />
<clipPath id="cp5"><rect x="362.5" y="459.7" width="77.5" height="21.600000000000023"/></clipPath>
<rect x="362.50" y="459.70" width="77.50" height="21.60" fill="#fff" stroke="none" stroke-width="0" />
<g clip-path="url(#cp5)">
<rect x="364.50" y="469.95" width="14.20" height="3.50" rx="1.75" fill="#0c0c0c" opacity="1" filter="url(#bl)"/>
<rect x="384.00" y="470.25" width="14.60" height="3.50" rx="1.75" fill="#0c0c0c" opacity="1" filter="url(#bl)"/>
<rect x="403.60" y="470.25" width="14.00" height="3.50" rx="1.75" fill="#0c0c0c" opacity="1" filter="url(#bl)"/>
<rect x="422.10" y="469.95" width="13.70" height="3.50" rx="1.75" fill="#0c0c0c" opacity="1" filter="url(#bl)"/>
<rect x="414.00" y="460.50" width="2.50" height="9.00" rx="1.25" fill="#ddd" opacity="0.7" filter="url(#bl2)"/>
</g>
<rect x="362.50" y="459.70" width="77.50" height="21.60" fill="none" stroke="#222" stroke-width="0.9" />
<line x1="449.50" y1="351.80" x2="458.50" y2="351.80" stroke="#111" stroke-width="0.8" />
<path d="M445.8,351.8 L450.3,349.90000000000003 L450.3,353.7 z" fill="#111"/>
<line x1="449.50" y1="355.80" x2="458.50" y2="355.80" stroke="#111" stroke-width="0.8" />
<path d="M445.8,355.8 L450.3,353.90000000000003 L450.3,357.7 z" fill="#111"/>
<line x1="449.50" y1="376.50" x2="458.50" y2="376.50" stroke="#111" stroke-width="0.8" />
<path d="M445.8,376.5 L450.3,374.6 L450.3,378.4 z" fill="#111"/>
<line x1="449.50" y1="400.70" x2="458.50" y2="400.70" stroke="#111" stroke-width="0.8" />
<path d="M445.8,400.7 L450.3,398.8 L450.3,402.59999999999997 z" fill="#111"/>
<line x1="449.50" y1="422.80" x2="458.50" y2="422.80" stroke="#111" stroke-width="0.8" />
<path d="M445.8,422.8 L450.3,420.90000000000003 L450.3,424.7 z" fill="#111"/>
<line x1="449.50" y1="444.20" x2="458.50" y2="444.20" stroke="#111" stroke-width="0.8" />
<path d="M445.8,444.2 L450.3,442.3 L450.3,446.09999999999997 z" fill="#111"/>
<line x1="449.50" y1="470.40" x2="458.50" y2="470.40" stroke="#111" stroke-width="0.8" />
<path d="M445.8,470.4 L450.3,468.5 L450.3,472.29999999999995 z" fill="#111"/>
<text x="463.7" y="357.2" font-size="8.4" text-anchor="start" font-weight="bold" fill="#111"  stroke="#111" stroke-width="0.12">proform</text>
<text x="463.7" y="379.6" font-size="8.4" text-anchor="start" font-weight="bold" fill="#111"  stroke="#111" stroke-width="0.12">proform</text>
<text x="463.7" y="403.7" font-size="8.4" text-anchor="start" font-weight="bold" fill="#111"  stroke="#111" stroke-width="0.12">proform</text>
<text x="463.7" y="426.0" font-size="8.4" text-anchor="start" font-weight="bold" fill="#111"  stroke="#111" stroke-width="0.12">proform</text>
<text x="463.7" y="447.5" font-size="8.4" text-anchor="start" font-weight="bold" fill="#111"  stroke="#111" stroke-width="0.12">proform</text>
<rect x="49.50" y="522.50" width="202.25" height="118.75" fill="none" stroke="#222" stroke-width="0.9" />
<line x1="49.50" y1="641.25" x2="51.50" y2="641.25" stroke="#222" stroke-width="0.9" />
<text x="40.4" y="644.414" font-size="9.9" text-anchor="end" font-weight="bold" fill="#111"  stroke="#111" stroke-width="0.12">0</text>
<line x1="49.50" y1="621.46" x2="51.50" y2="621.46" stroke="#222" stroke-width="0.9" />
<text x="40.4" y="624.6223333333334" font-size="9.9" text-anchor="end" font-weight="bold" fill="#111"  stroke="#111" stroke-width="0.12">10</text>
<line x1="49.50" y1="601.67" x2="51.50" y2="601.67" stroke="#222" stroke-width="0.9" />
<text x="40.4" y="604.8306666666666" font-size="9.9" text-anchor="end" font-weight="bold" fill="#111"  stroke="#111" stroke-width="0.12">20</text>
<line x1="49.50" y1="581.88" x2="51.50" y2="581.88" stroke="#222" stroke-width="0.9" />
<text x="40.4" y="585.039" font-size="9.9" text-anchor="end" font-weight="bold" fill="#111"  stroke="#111" stroke-width="0.12">30</text>
<line x1="49.50" y1="562.08" x2="51.50" y2="562.08" stroke="#222" stroke-width="0.9" />
<text x="40.4" y="565.2473333333334" font-size="9.9" text-anchor="end" font-weight="bold" fill="#111"  stroke="#111" stroke-width="0.12">40</text>
<line x1="49.50" y1="542.29" x2="51.50" y2="542.29" stroke="#222" stroke-width="0.9" />
<text x="40.4" y="545.4556666666666" font-size="9.9" text-anchor="end" font-weight="bold" fill="#111"  stroke="#111" stroke-width="0.12">50</text>
<line x1="49.50" y1="522.50" x2="51.50" y2="522.50" stroke="#222" stroke-width="0.9" />
<text x="40.4" y="525.664" font-size="9.9" text-anchor="end" font-weight="bold" fill="#111"  stroke="#111" stroke-width="0.12">60</text>
<line x1="100.06" y1="641.25" x2="100.06" y2="639.25" stroke="#222" stroke-width="0.9" />
<line x1="150.62" y1="641.25" x2="150.62" y2="639.25" stroke="#222" stroke-width="0.9" />
<line x1="201.19" y1="641.25" x2="201.19" y2="639.25" stroke="#222" stroke-width="0.9" />
<rect x="53.48" y="639.27" width="7.00" height="1.98" fill="#fff" stroke="#222" stroke-width="0.8" />
<line x1="56.98" y1="638.88" x2="56.98" y2="639.67" stroke="#222" stroke-width="0.7" />
<line x1="54.88" y1="638.88" x2="59.08" y2="638.88" stroke="#222" stroke-width="0.7" />
<line x1="54.88" y1="639.67" x2="59.08" y2="639.67" stroke="#222" stroke-width="0.7" />
<rect x="60.48" y="638.88" width="7.00" height="2.38" fill="#fff" stroke="none" stroke-width="0" />
<rect x="60.48" y="638.88" width="7.00" height="2.38" fill="url(#hh)" stroke="#222" stroke-width="0.8" />
<line x1="63.98" y1="638.28" x2="63.98" y2="639.47" stroke="#222" stroke-width="0.7" />
<line x1="61.88" y1="638.28" x2="66.08" y2="638.28" stroke="#222" stroke-width="0.7" />
<line x1="61.88" y1="639.47" x2="66.08" y2="639.47" stroke="#222" stroke-width="0.7" />
<rect x="67.48" y="614.93" width="7.00" height="26.32" fill="#d4d4d4" stroke="#222" stroke-width="0.8" />
<line x1="70.98" y1="611.36" x2="70.98" y2="618.49" stroke="#222" stroke-width="0.7" />
<line x1="68.88" y1="611.36" x2="73.08" y2="611.36" stroke="#222" stroke-width="0.7" />
<line x1="68.88" y1="618.49" x2="73.08" y2="618.49" stroke="#222" stroke-width="0.7" />
<rect x="74.48" y="587.02" width="7.00" height="54.23" fill="#000" stroke="#000" stroke-width="0.8" />
<line x1="77.98" y1="584.25" x2="77.98" y2="587.02" stroke="#222" stroke-width="0.7" />
<line x1="75.88" y1="584.25" x2="80.08" y2="584.25" stroke="#222" stroke-width="0.7" />
<line x1="75.88" y1="587.02" x2="80.08" y2="587.02" stroke="#222" stroke-width="0.7" />
<rect x="81.48" y="617.10" width="7.00" height="24.15" fill="#d2d2d2" stroke="none" stroke-width="0" />
<rect x="81.48" y="617.10" width="7.00" height="24.15" fill="url(#hv)" stroke="#444" stroke-width="0.8" />
<line x1="84.98" y1="613.54" x2="84.98" y2="620.67" stroke="#222" stroke-width="0.7" />
<line x1="82.88" y1="613.54" x2="87.08" y2="613.54" stroke="#222" stroke-width="0.7" />
<line x1="82.88" y1="620.67" x2="87.08" y2="620.67" stroke="#222" stroke-width="0.7" />
<rect x="88.48" y="581.28" width="7.00" height="59.97" fill="#fff" stroke="none" stroke-width="0" />
<rect x="88.48" y="581.28" width="7.00" height="59.97" fill="url(#hg)" stroke="#222" stroke-width="0.8" />
<line x1="91.98" y1="577.32" x2="91.98" y2="585.24" stroke="#222" stroke-width="0.7" />
<line x1="89.88" y1="577.32" x2="94.08" y2="577.32" stroke="#222" stroke-width="0.7" />
<line x1="89.88" y1="585.24" x2="94.08" y2="585.24" stroke="#222" stroke-width="0.7" />
<text x="77.78125" y="656.5" font-size="10" text-anchor="middle" fill="#111"  stroke="#111" stroke-width="0.3">No.1</text>
<rect x="104.04" y="639.27" width="7.00" height="1.98" fill="#fff" stroke="#222" stroke-width="0.8" />
<line x1="107.54" y1="638.88" x2="107.54" y2="639.67" stroke="#222" stroke-width="0.7" />
<line x1="105.44" y1="638.88" x2="109.64" y2="638.88" stroke="#222" stroke-width="0.7" />
<line x1="105.44" y1="639.67" x2="109.64" y2="639.67" stroke="#222" stroke-width="0.7" />
<rect x="111.04" y="638.48" width="7.00" height="2.77" fill="#fff" stroke="none" stroke-width="0" />
<rect x="111.04" y="638.48" width="7.00" height="2.77" fill="url(#hh)" stroke="#222" stroke-width="0.8" />
<line x1="114.54" y1="637.89" x2="114.54" y2="639.07" stroke="#222" stroke-width="0.7" />
<line x1="112.44" y1="637.89" x2="116.64" y2="637.89" stroke="#222" stroke-width="0.7" />
<line x1="112.44" y1="639.07" x2="116.64" y2="639.07" stroke="#222" stroke-width="0.7" />
<rect x="118.04" y="618.09" width="7.00" height="23.16" fill="#d4d4d4" stroke="#222" stroke-width="0.8" />
<line x1="121.54" y1="612.95" x2="121.54" y2="623.24" stroke="#222" stroke-width="0.7" />
<line x1="119.44" y1="612.95" x2="123.64" y2="612.95" stroke="#222" stroke-width="0.7" />
<line x1="119.44" y1="623.24" x2="123.64" y2="623.24" stroke="#222" stroke-width="0.7" />
<rect x="125.04" y="564.46" width="7.00" height="76.79" fill="#000" stroke="#000" stroke-width="0.8" />
<line x1="128.54" y1="558.12" x2="128.54" y2="564.46" stroke="#222" stroke-width="0.7" />
<line x1="126.44" y1="558.12" x2="130.64" y2="558.12" stroke="#222" stroke-width="0.7" />
<line x1="126.44" y1="564.46" x2="130.64" y2="564.46" stroke="#222" stroke-width="0.7" />
<rect x="132.04" y="617.70" width="7.00" height="23.55" fill="#d2d2d2" stroke="none" stroke-width="0" />
<rect x="132.04" y="617.70" width="7.00" height="23.55" fill="url(#hv)" stroke="#444" stroke-width="0.8" />
<line x1="135.54" y1="616.71" x2="135.54" y2="618.69" stroke="#222" stroke-width="0.7" />
<line x1="133.44" y1="616.71" x2="137.64" y2="616.71" stroke="#222" stroke-width="0.7" />
<line x1="133.44" y1="618.69" x2="137.64" y2="618.69" stroke="#222" stroke-width="0.7" />
<rect x="139.04" y="560.70" width="7.00" height="80.55" fill="#fff" stroke="none" stroke-width="0" />
<rect x="139.04" y="560.70" width="7.00" height="80.55" fill="url(#hg)" stroke="#222" stroke-width="0.8" />
<line x1="142.54" y1="559.71" x2="142.54" y2="561.69" stroke="#222" stroke-width="0.7" />
<line x1="140.44" y1="559.71" x2="144.64" y2="559.71" stroke="#222" stroke-width="0.7" />
<line x1="140.44" y1="561.69" x2="144.64" y2="561.69" stroke="#222" stroke-width="0.7" />
<text x="127.34375" y="656.5" font-size="10" text-anchor="middle" fill="#111"  stroke="#111" stroke-width="0.3">No. 6</text>
<rect x="154.61" y="637.69" width="7.00" height="3.56" fill="#fff" stroke="#222" stroke-width="0.8" />
<line x1="158.11" y1="637.29" x2="158.11" y2="638.08" stroke="#222" stroke-width="0.7" />
<line x1="156.01" y1="637.29" x2="160.21" y2="637.29" stroke="#222" stroke-width="0.7" />
<line x1="156.01" y1="638.08" x2="160.21" y2="638.08" stroke="#222" stroke-width="0.7" />
<rect x="161.61" y="639.27" width="7.00" height="1.98" fill="#fff" stroke="none" stroke-width="0" />
<rect x="161.61" y="639.27" width="7.00" height="1.98" fill="url(#hh)" stroke="#222" stroke-width="0.8" />
<line x1="165.11" y1="638.88" x2="165.11" y2="639.67" stroke="#222" stroke-width="0.7" />
<line x1="163.01" y1="638.88" x2="167.21" y2="638.88" stroke="#222" stroke-width="0.7" />
<line x1="163.01" y1="639.67" x2="167.21" y2="639.67" stroke="#222" stroke-width="0.7" />
<rect x="168.61" y="612.55" width="7.00" height="28.70" fill="#d4d4d4" stroke="#222" stroke-width="0.8" />
<line x1="172.11" y1="608.59" x2="172.11" y2="616.51" stroke="#222" stroke-width="0.7" />
<line x1="170.01" y1="608.59" x2="174.21" y2="608.59" stroke="#222" stroke-width="0.7" />
<line x1="170.01" y1="616.51" x2="174.21" y2="616.51" stroke="#222" stroke-width="0.7" />
<rect x="175.61" y="538.33" width="7.00" height="102.92" fill="#000" stroke="#000" stroke-width="0.8" />
<line x1="179.11" y1="533.19" x2="179.11" y2="538.33" stroke="#222" stroke-width="0.7" />
<line x1="177.01" y1="533.19" x2="181.21" y2="533.19" stroke="#222" stroke-width="0.7" />
<line x1="177.01" y1="538.33" x2="181.21" y2="538.33" stroke="#222" stroke-width="0.7" />
<rect x="182.61" y="603.25" width="7.00" height="38.00" fill="#d2d2d2" stroke="none" stroke-width="0" />
<rect x="182.61" y="603.25" width="7.00" height="38.00" fill="url(#hv)" stroke="#444" stroke-width="0.8" />
<line x1="186.11" y1="597.71" x2="186.11" y2="608.79" stroke="#222" stroke-width="0.7" />
<line x1="184.01" y1="597.71" x2="188.21" y2="597.71" stroke="#222" stroke-width="0.7" />
<line x1="184.01" y1="608.79" x2="188.21" y2="608.79" stroke="#222" stroke-width="0.7" />
<rect x="189.61" y="539.92" width="7.00" height="101.33" fill="#fff" stroke="none" stroke-width="0" />
<rect x="189.61" y="539.92" width="7.00" height="101.33" fill="url(#hg)" stroke="#222" stroke-width="0.8" />
<line x1="193.11" y1="534.77" x2="193.11" y2="545.06" stroke="#222" stroke-width="0.7" />
<line x1="191.01" y1="534.77" x2="195.21" y2="534.77" stroke="#222" stroke-width="0.7" />
<line x1="191.01" y1="545.06" x2="195.21" y2="545.06" stroke="#222" stroke-width="0.7" />
<text x="178.10625" y="656.5" font-size="10" text-anchor="middle" fill="#111"  stroke="#111" stroke-width="0.3">No. 11</text>
<rect x="205.17" y="637.29" width="7.00" height="3.96" fill="#fff" stroke="#222" stroke-width="0.8" />
<line x1="208.67" y1="636.70" x2="208.67" y2="637.89" stroke="#222" stroke-width="0.7" />
<line x1="206.57" y1="636.70" x2="210.77" y2="636.70" stroke="#222" stroke-width="0.7" />
<line x1="206.57" y1="637.89" x2="210.77" y2="637.89" stroke="#222" stroke-width="0.7" />
<rect x="212.17" y="638.08" width="7.00" height="3.17" fill="#fff" stroke="none" stroke-width="0" />
<rect x="212.17" y="638.08" width="7.00" height="3.17" fill="url(#hh)" stroke="#222" stroke-width="0.8" />
<line x1="215.67" y1="636.90" x2="215.67" y2="639.27" stroke="#222" stroke-width="0.7" />
<line x1="213.57" y1="636.90" x2="217.77" y2="636.90" stroke="#222" stroke-width="0.7" />
<line x1="213.57" y1="639.27" x2="217.77" y2="639.27" stroke="#222" stroke-width="0.7" />
<rect x="219.17" y="613.94" width="7.00" height="27.31" fill="#d4d4d4" stroke="#222" stroke-width="0.8" />
<line x1="222.67" y1="609.58" x2="222.67" y2="618.29" stroke="#222" stroke-width="0.7" />
<line x1="220.57" y1="609.58" x2="224.77" y2="609.58" stroke="#222" stroke-width="0.7" />
<line x1="220.57" y1="618.29" x2="224.77" y2="618.29" stroke="#222" stroke-width="0.7" />
<rect x="226.17" y="565.25" width="7.00" height="76.00" fill="#000" stroke="#000" stroke-width="0.8" />
<line x1="229.67" y1="560.90" x2="229.67" y2="565.25" stroke="#222" stroke-width="0.7" />
<line x1="227.57" y1="560.90" x2="231.77" y2="560.90" stroke="#222" stroke-width="0.7" />
<line x1="227.57" y1="565.25" x2="231.77" y2="565.25" stroke="#222" stroke-width="0.7" />
<rect x="233.17" y="608.79" width="7.00" height="32.46" fill="#d2d2d2" stroke="none" stroke-width="0" />
<rect x="233.17" y="608.79" width="7.00" height="32.46" fill="url(#hv)" stroke="#444" stroke-width="0.8" />
<line x1="236.67" y1="603.65" x2="236.67" y2="613.94" stroke="#222" stroke-width="0.7" />
<line x1="234.57" y1="603.65" x2="238.77" y2="603.65" stroke="#222" stroke-width="0.7" />
<line x1="234.57" y1="613.94" x2="238.77" y2="613.94" stroke="#222" stroke-width="0.7" />
<rect x="240.17" y="568.61" width="7.00" height="72.64" fill="#fff" stroke="none" stroke-width="0" />
<rect x="240.17" y="568.61" width="7.00" height="72.64" fill="url(#hg)" stroke="#222" stroke-width="0.8" />
<line x1="243.67" y1="560.70" x2="243.67" y2="576.53" stroke="#222" stroke-width="0.7" />
<line x1="241.57" y1="560.70" x2="245.77" y2="560.70" stroke="#222" stroke-width="0.7" />
<line x1="241.57" y1="576.53" x2="245.77" y2="576.53" stroke="#222" stroke-width="0.7" />
<text x="230.46875" y="656.5" font-size="10" text-anchor="middle" fill="#111"  stroke="#111" stroke-width="0.3">No. 16</text>
<text x="22.2" y="581.875" font-size="9" text-anchor="middle" font-weight="bold" transform="rotate(-90 22.2 581.875)" fill="#111"  stroke="#111" stroke-width="0.12">Apoptotic cells (%)</text>
<rect x="281.50" y="544.90" width="5.20" height="5.20" fill="#fff" stroke="#222" stroke-width="0.8" />
<text x="297" y="550.2" font-size="10.05" text-anchor="start" fill="#111"  stroke="#111" stroke-width="0.3">Cont</text>
<rect x="281.50" y="558.58" width="5.20" height="5.20" fill="#fff" stroke="#222" stroke-width="0.8" />
<line x1="281.90" y1="560.18" x2="286.30" y2="560.18" stroke="#222" stroke-width="0.8" />
<line x1="281.90" y1="562.08" x2="286.30" y2="562.08" stroke="#222" stroke-width="0.8" />
<text x="297" y="563.7" font-size="10.05" text-anchor="start" fill="#111"  stroke="#111" stroke-width="0.3">IR</text>
<rect x="281.50" y="572.76" width="5.20" height="5.20" fill="#d4d4d4" stroke="#222" stroke-width="0.8" />
<text x="297" y="577.7" font-size="10.05" text-anchor="start" fill="#111"  stroke="#111" stroke-width="0.3">PS</text>
<rect x="281.50" y="586.44" width="5.20" height="5.20" fill="#000" stroke="#222" stroke-width="0.8" />
<text x="297" y="591.2" font-size="10.05" text-anchor="start" fill="#111"  stroke="#111" stroke-width="0.3">IR+PS</text>
<rect x="281.50" y="599.42" width="5.20" height="5.20" fill="url(#hv)" stroke="#222" stroke-width="0.8" />
<text x="297" y="604.0" font-size="10.05" text-anchor="start" fill="#111"  stroke="#111" stroke-width="0.3">z-VAD-fmk+PS</text>
<rect x="281.50" y="611.30" width="5.20" height="5.20" fill="url(#hg)" stroke="#222" stroke-width="0.8" />
<text x="297" y="615.7" font-size="10.05" text-anchor="start" fill="#111"  stroke="#111" stroke-width="0.3">z-VAD-fmk+IR+PS</text>
</svg></body></html>
